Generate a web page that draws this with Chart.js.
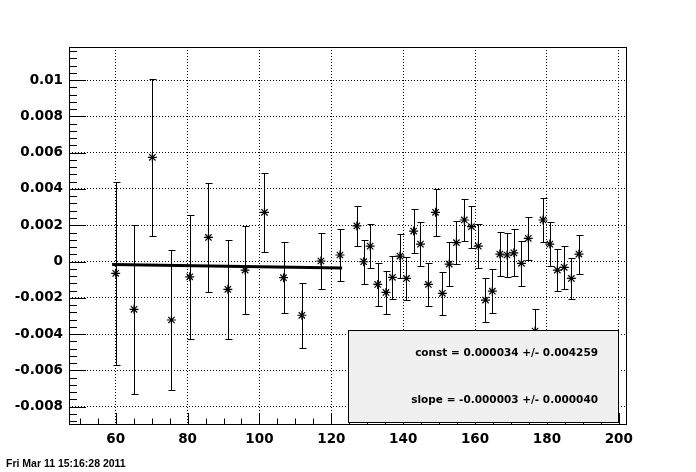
<!DOCTYPE html>
<html>
<head>
<meta charset="utf-8">
<script src="https://cdn.jsdelivr.net/npm/chart.js@4.4.0/dist/chart.umd.min.js"></script>
<style>
  html, body { margin: 0; padding: 0; background: #fff; }
  #wrap { width: 696px; height: 472px; }
</style>
</head>
<body>
<div id="wrap"><canvas id="fitPlot" width="696" height="472"></canvas></div>
<script>
// measured points (x, value, error)
const xVals = [60.0, 65.1, 70.2, 75.5, 80.6, 85.8, 91.2, 96.0, 101.4, 106.7, 111.8, 117.1, 122.4,
    127.1, 129.0, 130.8, 132.9, 135.2, 137.0, 139.1, 140.9, 142.9, 144.8, 147.0, 149.0, 150.9,
    152.8, 154.8, 157.0, 159.0, 160.9, 162.9, 164.8, 166.9, 168.9, 170.8, 172.9, 174.8, 176.7,
    178.9, 180.8, 182.9, 184.8, 186.8, 188.9];
const yVals = [-0.00065, -0.00263, 0.00574, -0.00322, -0.00084, 0.00133, -0.00153, -0.00047, 0.00271,
    -0.00089, -0.00296, 0.00003, 0.00036,
    0.00196, -0.00001, 0.00085, -0.00126, -0.0017, -0.00087, 0.0003, -0.00093, 0.00168, 0.00096,
    -0.00126, 0.00271, -0.00175, -0.00014, 0.00104, 0.00229, 0.00192, 0.00085, -0.00212, -0.00163,
    0.00041, 0.00036, 0.00048, -0.0001, 0.00128, -0.00383, 0.00229, 0.00096, -0.00047, -0.00032,
    -0.00093, 0.00041];
const yErrs = [0.00505, 0.00466, 0.00433, 0.00387, 0.00342, 0.0030, 0.00273, 0.00243, 0.00218,
    0.00194, 0.00178, 0.00156, 0.00145,
    0.0011, 0.0012, 0.0012, 0.00117, 0.0012, 0.00118, 0.00121, 0.0012, 0.00121, 0.0012,
    0.00119, 0.0013, 0.00118, 0.00122, 0.00117, 0.00118, 0.00116, 0.00121, 0.00121, 0.00121,
    0.0012, 0.00121, 0.0013, 0.00122, 0.0012, 0.0012, 0.00121, 0.0012, 0.00115, 0.00117,
    0.00113, 0.00107];

// fitted line, start and end
const fitX = [59, 123];
const fitY = [-0.00016, -0.00035];

const xTicks = [60, 80, 100, 120, 140, 160, 180, 200];
const yTicks = [-0.008, -0.006, -0.004, -0.002, 0, 0.002, 0.004, 0.006, 0.008, 0.01];
const yTickLabels = ['-0.008', '-0.006', '-0.004', '-0.002', '0', '0.002', '0.004', '0.006', '0.008', '0.01'];

const statLines = ['const = 0.000034 +/- 0.004259', 'slope = -0.000003 +/- 0.000040'];
const stampText = 'Fri Mar 11 15:16:28 2011';

const labelFont = { family: 'DejaVu Sans', weight: 'bold', size: 13.5 };

// error bars under the markers
const errorBars = {
    id: 'errorBars',
    beforeDatasetsDraw(chart) {
        const ctx = chart.ctx;
        const xs = chart.scales.x, ys = chart.scales.y;
        const area = chart.chartArea;
        ctx.save();
        ctx.beginPath();
        ctx.rect(area.left, area.top, area.right - area.left, area.bottom - area.top);
        ctx.clip();
        ctx.strokeStyle = '#000';
        ctx.lineWidth = 1;
        for (let i = 0; i < xVals.length; i++) {
            const px = Math.round(xs.getPixelForValue(xVals[i])) + 0.5;
            const top = Math.round(ys.getPixelForValue(yVals[i] + yErrs[i])) + 0.5;
            const bot = Math.round(ys.getPixelForValue(yVals[i] - yErrs[i])) + 0.5;
            ctx.beginPath();
            ctx.moveTo(px, top); ctx.lineTo(px, bot);
            ctx.moveTo(px - 3, top); ctx.lineTo(px + 4, top);
            ctx.moveTo(px - 3, bot); ctx.lineTo(px + 4, bot);
            ctx.stroke();
        }
        ctx.restore();
    }
};

// frame, inward ticks, stats box and the date stamp
const rootFrame = {
    id: 'rootFrame',
    afterDatasetsDraw(chart) {
        const ctx = chart.ctx;
        const a = chart.chartArea;
        const xs = chart.scales.x, ys = chart.scales.y;
        ctx.save();
        ctx.strokeStyle = '#000';
        ctx.lineWidth = 1;
        ctx.strokeRect(a.left + 0.5, a.top + 0.5, a.right - a.left, a.bottom - a.top);

        ctx.beginPath();
        for (let v = 50; v <= 202; v += 5) {
            const px = Math.round(xs.getPixelForValue(v)) + 0.5;
            const len = (v % 20 === 0) ? 11 : 5.5;
            ctx.moveTo(px, a.bottom);
            ctx.lineTo(px, a.bottom - len);
        }
        for (let k = -22; k <= 29; k++) {
            const v = k * 0.0004;
            if (v < ys.min || v > ys.max) continue;
            const py = Math.round(ys.getPixelForValue(v)) + 0.5;
            const len = (k % 5 === 0) ? 17 : 8;
            ctx.moveTo(a.left, py);
            ctx.lineTo(a.left + len, py);
        }
        ctx.stroke();

        // stats box
        ctx.fillStyle = '#f0f0f0';
        ctx.fillRect(348.5, 330.5, 270, 92);
        ctx.strokeRect(348.5, 330.5, 270, 92);
        ctx.fillStyle = '#000';
        ctx.font = 'bold 10.5px "DejaVu Sans"';
        ctx.textAlign = 'right';
        ctx.textBaseline = 'middle';
        ctx.fillText(statLines[0], 598, 353);
        ctx.fillText(statLines[1], 598, 400);

        ctx.font = 'bold 10.5px "Liberation Sans"';
        ctx.textAlign = 'left';
        ctx.fillText(stampText, 6, 464);
        ctx.restore();
    }
};

const plot = new Chart(document.getElementById('fitPlot').getContext('2d'), {
    type: 'scatter',
    data: {
        datasets: [{
            type: 'scatter',
            data: xVals.map((x, i) => ({ x: x, y: yVals[i] })),
            pointStyle: 'star',
            pointRadius: 4.5,
            borderWidth: 1.2,
            borderColor: '#000',
            backgroundColor: '#000',
            order: 2
        },
        {
            type: 'line',
            data: fitX.map((x, i) => ({ x: x, y: fitY[i] })),
            borderColor: '#000',
            borderWidth: 3,
            pointRadius: 0,
            fill: false,
            order: 1
        }]
    },
    plugins: [errorBars, rootFrame],
    options: {
        responsive: false,
        animation: false,
        events: [],
        layout: { padding: { left: 0, top: 47, right: 70, bottom: 0 } },
        plugins: {
            legend: { display: false },
            tooltip: { enabled: false }
        },
        scales: {
            x: {
                type: 'linear',
                min: 47,
                max: 202,
                afterBuildTicks: s => { s.ticks = xTicks.map(v => ({ value: v })); },
                afterFit: s => { s.height = 48; },
                grid: { color: '#000', lineWidth: 1, drawTicks: false },
                border: { display: false, dash: [1, 2] },
                ticks: {
                    color: '#000',
                    font: labelFont,
                    padding: 7,
                    maxRotation: 0,
                    autoSkip: false,
                    callback: v => String(v)
                }
            },
            y: {
                type: 'linear',
                min: -0.00895,
                max: 0.01182,
                afterBuildTicks: s => { s.ticks = yTicks.map(v => ({ value: v })); },
                afterFit: s => { s.width = 69; },
                grid: { color: '#000', lineWidth: 1, drawTicks: false },
                border: { display: false, dash: [1, 2] },
                ticks: {
                    color: '#000',
                    font: labelFont,
                    padding: 6,
                    autoSkip: false,
                    callback: (v, i) => yTickLabels[i]
                }
            }
        }
    }
});
</script>
</body>
</html>
